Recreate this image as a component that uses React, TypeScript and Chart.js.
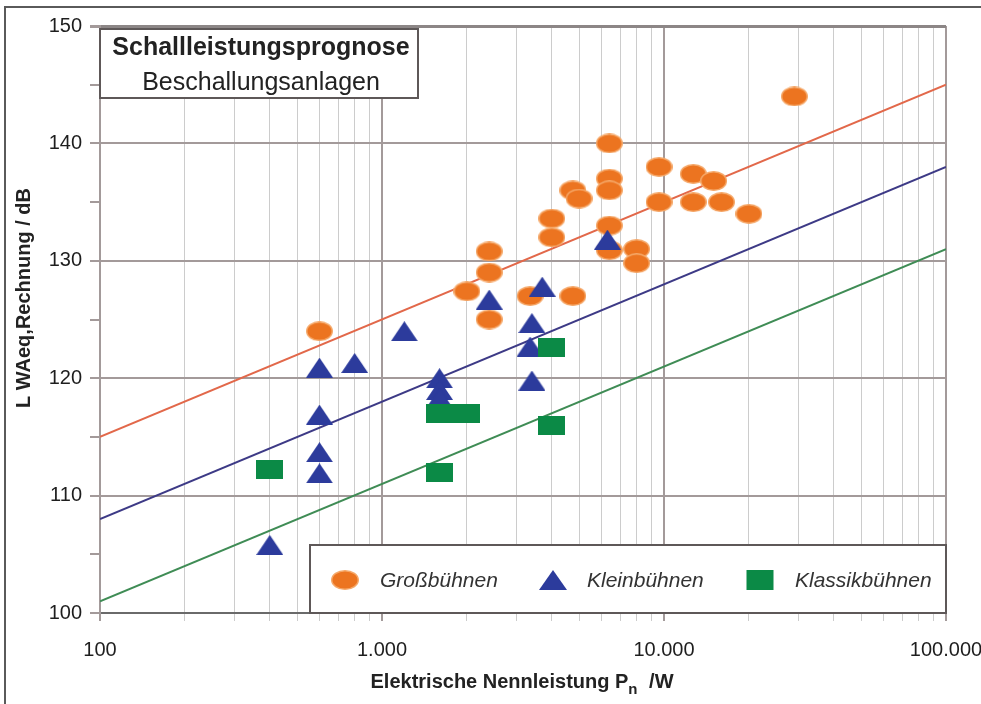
import React, { useEffect, useRef } from 'react';
import { Chart, registerables } from 'chart.js';

Chart.register(...registerables);

// ---------- data ----------
const grossX = [600, 2000, 2400, 2400, 2400, 3350, 4000, 4000, 4750, 5000, 4750, 6400, 6400, 6400, 6400, 6400, 8000, 8000, 9600, 9600, 12700, 12700, 15000, 16000, 20000, 29000];
const grossY = [124, 127.4, 130.8, 129, 125, 127, 133.6, 132, 136, 135.3, 127, 140, 137, 136, 133, 130.9, 131, 129.8, 138, 135, 137.4, 135, 136.8, 135, 134, 144];

const kleinX = [400, 600, 600, 600, 600, 800, 1200, 1600, 1600, 1600, 2400, 3400, 3350, 3400, 3700, 6300];
const kleinY = [105.8, 120.9, 116.9, 113.7, 111.9, 121.3, 124, 120, 119, 118.3, 126.7, 124.7, 122.7, 119.8, 127.8, 131.8];

const klassikX = [400, 1600, 2000, 1600, 4000, 4000];
const klassikY = [112.2, 117, 117, 112, 122.6, 116];

const fitX = [100, 100000];
const grossFit = [115, 145];
const kleinFit = [108, 138];
const klassikFit = [101, 131];

const seriesLabels = ['Großbühnen', 'Kleinbühnen', 'Klassikbühnen'];
const xTickValues = [100, 1000, 10000, 100000];
const xTickLabels = ['100', '1.000', '10.000', '100.000'];
const yTickValues = [100, 110, 120, 130, 140, 150];

const titleLine1 = 'Schallleistungsprognose';
const titleLine2 = 'Beschallungsanlagen';
const yTitle = 'L WAeq,Rechnung / dB';
const xTitleMain = 'Elektrische Nennleistung P';
const xTitleSub = 'n';
const xTitleEnd = ' /W';

// ---------- styles ----------
const ORANGE = '#ec7420';
const ORANGE_EDGE = '#f5a869';
const BLUE = '#2c3b9c';
const GREEN = '#0b8a46';
const FONT = '"Liberation Sans", Arial, sans-serif';
const GRID_MAJOR = '#a39a9a';
const GRID_MINOR = '#cccccc';

type Kind = 'ellipse' | 'triangle' | 'rect';

function drawShape(g: CanvasRenderingContext2D, kind: Kind, cx: number, cy: number, w: number, h: number) {
  g.save();
  g.beginPath();
  if (kind === 'ellipse') {
    g.ellipse(cx, cy, w / 2 - 0.75, h / 2 - 0.75, 0, 0, Math.PI * 2);
    g.fillStyle = ORANGE;
    g.fill();
    g.lineWidth = 1.5;
    g.strokeStyle = ORANGE_EDGE;
    g.stroke();
  } else if (kind === 'triangle') {
    g.moveTo(cx, cy - h / 2);
    g.lineTo(cx + w / 2, cy + h / 2);
    g.lineTo(cx - w / 2, cy + h / 2);
    g.closePath();
    g.fillStyle = BLUE;
    g.fill();
  } else {
    g.fillStyle = GREEN;
    g.fillRect(cx - w / 2, cy - h / 2, w, h);
  }
  g.restore();
}

function makeMarker(kind: Kind, w: number, h: number) {
  const c = document.createElement('canvas');
  c.width = w;
  c.height = h;
  const g = c.getContext('2d')!;
  drawShape(g, kind, w / 2, h / 2, w, h);
  return c;
}

const isDecade = (v: number) => Math.abs(Math.log10(v) - Math.round(Math.log10(v))) < 1e-9;

const decoPlugin = {
  id: 'deco',
  beforeDraw(chart: any) {
    const ctx = chart.ctx as CanvasRenderingContext2D;
    ctx.save();
    ctx.fillStyle = '#ffffff';
    ctx.fillRect(0, 0, chart.width, chart.height);
    ctx.strokeStyle = '#5a5a5a';
    ctx.lineWidth = 2;
    ctx.beginPath();
    ctx.moveTo(5, chart.height);
    ctx.lineTo(5, 7);
    ctx.lineTo(chart.width, 7);
    ctx.stroke();
    ctx.restore();
  },
  afterDraw(chart: any) {
    const ctx = chart.ctx as CanvasRenderingContext2D;
    const area = chart.chartArea;
    ctx.save();

    // title box
    const tb = { x: area.left, y: 29, w: 318, h: 69 };
    ctx.fillStyle = '#ffffff';
    ctx.fillRect(tb.x, tb.y, tb.w, tb.h);
    ctx.strokeStyle = '#5e5858';
    ctx.lineWidth = 2;
    ctx.strokeRect(tb.x, tb.y, tb.w, tb.h);
    ctx.fillStyle = '#222';
    ctx.textAlign = 'center';
    ctx.textBaseline = 'alphabetic';
    ctx.font = `bold 25px ${FONT}`;
    ctx.fillText(titleLine1, tb.x + tb.w / 2 + 2, 55);
    ctx.font = `25px ${FONT}`;
    ctx.fillText(titleLine2, tb.x + tb.w / 2 + 2, 90);

    // legend box
    const lb = { x: 310, y: 545, w: area.right - 310, h: area.bottom - 545 };
    ctx.fillStyle = '#ffffff';
    ctx.fillRect(lb.x, lb.y, lb.w, lb.h);
    ctx.strokeStyle = '#5e5858';
    ctx.lineWidth = 2;
    ctx.strokeRect(lb.x, lb.y, lb.w, lb.h);
    const ly = 580;
    const kinds: Kind[] = ['ellipse', 'triangle', 'rect'];
    const markerX = [345, 553, 760];
    const textX = [380, 587, 795];
    ctx.font = `italic 21px ${FONT}`;
    ctx.textAlign = 'left';
    ctx.textBaseline = 'middle';
    kinds.forEach((k, i) => {
      drawShape(ctx, k, markerX[i], ly, k === 'rect' ? 27 : 28, 20);
      ctx.fillStyle = '#333';
      ctx.fillText(seriesLabels[i], textX[i], ly + 1);
    });

    // y axis title
    ctx.save();
    ctx.translate(24, 298);
    ctx.rotate(-Math.PI / 2);
    ctx.font = `bold 20px ${FONT}`;
    ctx.fillStyle = '#222';
    ctx.textAlign = 'center';
    ctx.textBaseline = 'middle';
    ctx.fillText(yTitle, 0, 0);
    ctx.restore();

    // x axis title with subscript
    ctx.font = `bold 20px ${FONT}`;
    const w1 = ctx.measureText(xTitleMain).width;
    ctx.font = `bold 15px ${FONT}`;
    const w2 = ctx.measureText(xTitleSub).width;
    ctx.font = `bold 20px ${FONT}`;
    const w3 = ctx.measureText(xTitleEnd).width + 6;
    const total = w1 + w2 + w3;
    let x0 = 522 - total / 2;
    const base = 688;
    ctx.fillStyle = '#222';
    ctx.textAlign = 'left';
    ctx.textBaseline = 'alphabetic';
    ctx.fillText(xTitleMain, x0, base);
    x0 += w1;
    ctx.font = `bold 15px ${FONT}`;
    ctx.fillText(xTitleSub, x0, base + 6);
    x0 += w2 + 6;
    ctx.font = `bold 20px ${FONT}`;
    ctx.fillText(xTitleEnd, x0, base);

    ctx.restore();
  },
};

export default function App() {
  const ref = useRef<HTMLCanvasElement | null>(null);

  useEffect(() => {
    document.body.style.margin = '0';
    const canvas = ref.current;
    if (!canvas) return;
    const ellipse = makeMarker('ellipse', 27, 20);
    const triangle = makeMarker('triangle', 27, 20);
    const rect = makeMarker('rect', 27, 19);

    const pts = (xs: number[], ys: number[]) => xs.map((x, i) => ({ x, y: ys[i] }));

    const xTicks: number[] = [];
    for (let d = 100; d < 100000; d *= 10) {
      for (let m = 1; m <= 9; m++) xTicks.push(d * m);
    }
    xTicks.push(100000);

    const chart = new Chart(canvas, {
      type: 'scatter',
      data: {
        datasets: [
          { label: seriesLabels[0], data: pts(grossX, grossY), pointStyle: ellipse as any, pointRadius: 13, order: 3 },
          { label: seriesLabels[1], data: pts(kleinX, kleinY), pointStyle: triangle as any, pointRadius: 13, order: 2 },
          { label: seriesLabels[2], data: pts(klassikX, klassikY), pointStyle: rect as any, pointRadius: 13, order: 1 },
          { label: 'fit1', data: pts(fitX, grossFit), showLine: true, borderColor: '#e2684a', borderWidth: 2, pointRadius: 0, order: 10 },
          { label: 'fit2', data: pts(fitX, kleinFit), showLine: true, borderColor: '#3d3a86', borderWidth: 2, pointRadius: 0, order: 11 },
          { label: 'fit3', data: pts(fitX, klassikFit), showLine: true, borderColor: '#3f8c55', borderWidth: 2, pointRadius: 0, order: 12 },
        ] as any,
      },
      options: {
        animation: false,
        responsive: false,
        maintainAspectRatio: false,
        layout: { padding: { left: 0, top: 26, right: 35, bottom: 0 } },
        plugins: { legend: { display: false }, tooltip: { enabled: false }, title: { display: false } },
        scales: {
          x: {
            type: 'logarithmic',
            min: 100,
            max: 100000,
            afterBuildTicks: (s: any) => {
              s.ticks = xTicks.map((v) => ({ value: v, major: isDecade(v) }));
            },
            afterFit: (s: any) => {
              s.height = 91;
              s.paddingLeft = 0;
              s.paddingRight = 0;
            },
            ticks: {
              autoSkip: false,
              maxRotation: 0,
              minRotation: 0,
              padding: 17,
              color: '#1e1e1e',
              font: { family: FONT, size: 20 },
              callback: (v: any) => {
                const i = xTickValues.indexOf(Number(v));
                return i >= 0 ? xTickLabels[i] : '';
              },
            },
            grid: {
              color: (c: any) => (c.tick && isDecade(c.tick.value) ? GRID_MAJOR : GRID_MINOR),
              lineWidth: (c: any) => (c.tick && isDecade(c.tick.value) ? 2 : 1),
              tickLength: 8,
              tickColor: (c: any) => (c.tick && isDecade(c.tick.value) ? GRID_MAJOR : GRID_MINOR),
            },
            border: { display: true, color: '#6a6a6a', width: 2 },
          },
          y: {
            type: 'linear',
            min: 100,
            max: 150,
            afterBuildTicks: (s: any) => {
              const t: any[] = [];
              for (let v = 100; v <= 150; v += 5) t.push({ value: v });
              s.ticks = t;
            },
            afterFit: (s: any) => {
              s.width = 100;
              s.paddingTop = 0;
              s.paddingBottom = 0;
            },
            ticks: {
              autoSkip: false,
              padding: 8,
              color: '#1e1e1e',
              font: { family: FONT, size: 20 },
              callback: (v: any) => (yTickValues.indexOf(Number(v)) >= 0 ? String(v) : ''),
            },
            grid: {
              color: (c: any) => (c.tick && c.tick.value % 10 === 0 ? (c.tick.value === 150 ? '#8c8686' : GRID_MAJOR) : 'rgba(0,0,0,0)'),
              lineWidth: (c: any) => (c.tick && c.tick.value === 150 ? 3 : 2),
              tickLength: 10,
              tickColor: GRID_MAJOR,
            },
            border: { display: true, color: GRID_MAJOR, width: 2 },
          },
        },
      },
      plugins: [decoPlugin],
    });

    return () => chart.destroy();
  }, []);

  return (
    <div style={{ width: 981, height: 704, position: 'relative', background: '#fff' }}>
      <canvas ref={ref} width={981} height={704} style={{ display: 'block', width: 981, height: 704 }} />
    </div>
  );
}
